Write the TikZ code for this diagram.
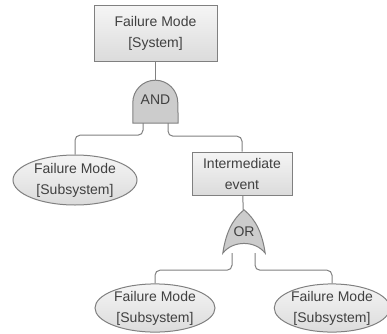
\documentclass[tikz,border=0pt]{standalone}
\usepackage{fontspec}
\setmainfont{Liberation Sans}
\usetikzlibrary{shapes.geometric}
\definecolor{ftline}{rgb}{0.50, 0.50, 0.50}
\definecolor{fttext}{rgb}{0.25, 0.25, 0.25}

\begin{document}
\begin{tikzpicture}[x=1pt, y=1pt,
        event/.style = {draw=ftline, line width=1pt, top color=gray!8, bottom color=gray!28,
                        align=center, text=fttext, font=\fontsize{14}{21}\selectfont, inner sep=0pt},
        basic/.style = {event, ellipse},
        gate/.style = {inner sep=0pt, text=fttext, font=\fontsize{14}{16}\selectfont},
        gateshape/.style = {draw=ftline, line width=1pt, fill=gray!40},
        link/.style = {draw=ftline, line width=1pt, rounded corners=5pt}]
        \useasboundingbox (0, 0) rectangle (387, 333);
        % events
        \node[event, minimum width=123, minimum height=55] (top) at (155.5, 299.5) {Failure Mode\\{[System]}};
        \node[event, minimum width=100, minimum height=43] (inter) at (242, 159.5) {Intermediate\\event};
        \node[basic, minimum width=124, minimum height=50] (sub1) at (75, 153) {Failure Mode\\{[Subsystem]}};
        \node[basic, minimum width=120, minimum height=46] (sub2) at (155, 25) {Failure Mode\\{[Subsystem]}};
        \node[basic, minimum width=108, minimum height=46] (sub3) at (332, 25) {Failure Mode\\{[Subsystem]}};
        % gates
        \node[gate, minimum width=45, minimum height=43] (andg) at (155.5, 231.5) {};
        \draw[gateshape] (andg.south west) -- ++(0, 20.5) arc (180:0:22.5) -- (andg.south east) -- cycle;
        \node[gate] at ([yshift=2pt]andg.center) {AND};
        \node[gate, minimum width=42, minimum height=43] (org) at (244, 101.5) {};
        \draw[gateshape] (org.south west) .. controls +(3, 20) and +(-12, -10) .. (org.north)
                .. controls +(12, -10) and +(-3, 20) .. (org.south east)
                .. controls +(-10, 13) and +(10, 13) .. (org.south west) -- cycle;
        \node[gate] at (org.center) {OR};
        % connectors
        \draw[link] (top) -- (andg);
        \draw[link] ([xshift=-12.5pt]andg.south) -- ++(0, -12) -| (sub1.north);
        \draw[link] ([xshift=12.5pt]andg.south) -- ++(0, -13) -| (inter.north);
        \draw[link] (inter) -- (org);
        \draw[link] ([xshift=-12pt]org.south) -- ++(0, -17) -| (sub2.north);
        \draw[link] ([xshift=11pt]org.south) -- ++(0, -17) -| (sub3.north);
\end{tikzpicture}
\end{document}
